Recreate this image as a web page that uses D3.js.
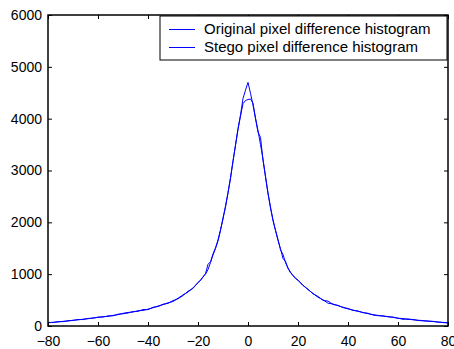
<!DOCTYPE html>
<html>
<head>
<meta charset="utf-8">
<script src="https://cdn.jsdelivr.net/npm/d3@7"></script>
<style>
  body { margin: 0; background: #fff; }
  text { font-family: Arial, "Liberation Sans", sans-serif; fill: #000; }
</style>
</head>
<body>
<div id="chart"></div>
<script>
// pixel difference values (x axis)
var diffs = [-80,-78,-76,-74,-72,-70,-68,-66,-64,-62,-60,-58,-56,-54,-52,-50,-48,-46,-44,-42,-40,-38,-36,-34,-32,-30,-28,-26,-24,-22,-20,
    -19,-18,-17,-16,-15,-14,-13,-12,-11,-10,-9,-8,-7,-6,-5,-4,-3,-2,-1,0,1,2,3,4,5,6,7,8,9,10,11,12,13,14,15,16,17,18,19,
    20,22,24,26,28,30,32,34,36,38,40,42,44,46,48,50,52,54,56,58,60,62,64,66,68,70,72,74,76,78,80];

var original = [62,72,78,90,96,112,118,132,140,155,166,180,186,205,218,245,262,268,295,300,325,352,385,412,448,472,535,600,655,735,835,
    885,945,1010,1190,1240,1390,1510,1660,1860,2060,2320,2560,2870,3170,3500,3810,4070,4390,4550,4700,4490,4260,4000,3740,3640,3200,2890,2570,2270,2050,1840,1650,1490,1300,1250,1110,1040,970,925,
    880,790,700,630,555,505,440,425,392,362,330,308,282,262,238,218,205,190,182,166,152,128,138,118,112,104,96,86,78,66,58];

var stego = [70,66,85,84,102,106,126,124,146,150,172,172,195,196,228,236,250,280,282,318,315,362,375,420,436,490,525,588,670,725,842,
    878,952,1000,1090,1225,1370,1495,1640,1840,2090,2290,2580,2840,3190,3480,3790,4050,4290,4350,4370,4380,4300,4010,3770,3500,3220,2870,2550,2300,2030,1850,1670,1470,1380,1220,1120,1025,980,915,
    885,780,710,620,570,495,480,415,398,355,338,300,290,256,246,212,198,196,176,172,148,145,126,128,106,100,92,90,74,70,62];

var seriesNames = ["Original pixel difference histogram", "Stego pixel difference histogram"];
var xTicks = [-80,-60,-40,-20,0,20,40,60,80];
var yTicks = [0,1000,2000,3000,4000,5000,6000];

var svgWidth = 454;
var svgHeight = 349;
var margin = { top: 15, right: 6, bottom: 23, left: 48 };
var width = svgWidth - margin.left - margin.right;
var height = svgHeight - margin.top - margin.bottom;

var svg = d3.select("#chart")
    .append("svg")
    .attr("width", svgWidth)
    .attr("height", svgHeight);

var chartGroup = svg.append("g")
    .attr("transform", `translate(${margin.left}, ${margin.top})`);

var xScale = d3.scaleLinear().domain([-80, 80]).range([0, width]);
var yScale = d3.scaleLinear().domain([0, 6000]).range([height, 0]);

// data lines
var line = d3.line()
    .x(function (d, i) { return xScale(diffs[i]); })
    .y(function (d) { return yScale(d); });

[original, stego].forEach(function (series) {
    chartGroup.append("path")
        .datum(series)
        .attr("fill", "none")
        .attr("stroke", "#0000ff")
        .attr("stroke-width", 1)
        .attr("d", line);
});

// axes with inward ticks, box all round
function styleAxis(g, hideText) {
    g.select(".domain").remove();
    g.selectAll(".tick line").attr("stroke", "#000").attr("stroke-width", 1);
    g.selectAll(".tick text")
        .style("font-size", "14px")
        .attr("fill", "#000");
    if (hideText) g.selectAll(".tick text").remove();
}

var bottomAxis = d3.axisBottom(xScale).tickValues(xTicks).tickSizeInner(-4).tickSizeOuter(0).tickPadding(10);
chartGroup.append("g")
    .attr("transform", `translate(0, ${height})`)
    .call(bottomAxis)
    .call(styleAxis, false);

var topAxis = d3.axisTop(xScale).tickValues(xTicks).tickSizeInner(-4).tickSizeOuter(0);
chartGroup.append("g").call(topAxis).call(styleAxis, true);

var leftAxis = d3.axisLeft(yScale).tickValues(yTicks).tickFormat(d3.format("d")).tickSizeInner(-4).tickSizeOuter(0).tickPadding(6);
chartGroup.append("g").call(leftAxis).call(styleAxis, false);

var rightAxis = d3.axisRight(yScale).tickValues(yTicks).tickSizeInner(-4).tickSizeOuter(0);
chartGroup.append("g")
    .attr("transform", `translate(${width}, 0)`)
    .call(rightAxis)
    .call(styleAxis, true);

chartGroup.append("rect")
    .attr("width", width)
    .attr("height", height)
    .attr("fill", "none")
    .attr("stroke", "#000")
    .attr("stroke-width", 1.5);

// legend
var legend = chartGroup.append("g")
    .attr("transform", `translate(${xScale(-35.2)}, 1)`);
legend.append("rect")
    .attr("width", 287)
    .attr("height", 44)
    .attr("fill", "#fff")
    .attr("stroke", "#000")
    .attr("stroke-width", 1);
seriesNames.forEach(function (name, i) {
    var y = 13.5 + i * 18;
    legend.append("line")
        .attr("x1", 9).attr("x2", 35)
        .attr("y1", y).attr("y2", y)
        .attr("stroke", "#0000ff")
        .attr("stroke-width", 1);
    legend.append("text")
        .attr("x", 44)
        .attr("y", y + 4.5)
        .style("font-size", "15px")
        .text(name);
});
</script>
</body>
</html>
